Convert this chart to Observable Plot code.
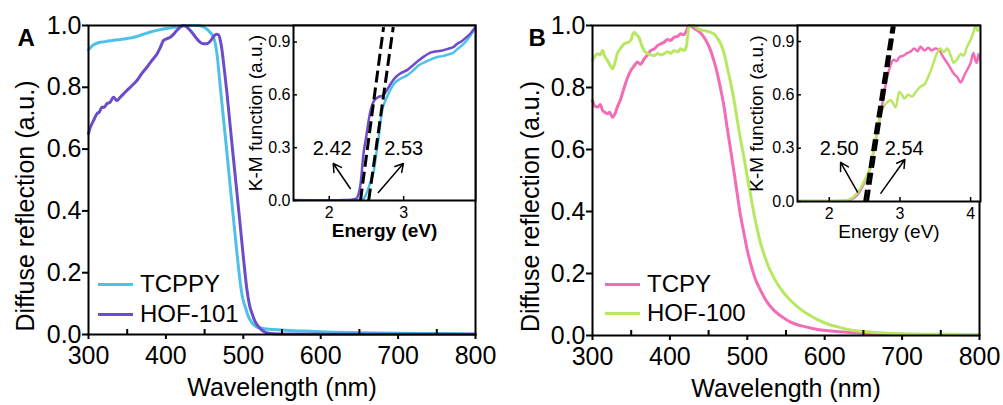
<!DOCTYPE html>
<html><head><meta charset="utf-8">
<script src="https://cdn.jsdelivr.net/npm/d3@7"></script>
<script src="https://cdn.jsdelivr.net/npm/@observablehq/plot@0.6"></script>
<style>
html,body{margin:0;padding:0;background:#fff;}
#wrap{position:relative;width:1003px;height:405px;overflow:hidden;font-family:"Liberation Sans",Arial,sans-serif;}
.leg{position:absolute;display:flex;align-items:center;height:30px;font-size:24px;color:#000;}
.leg span.sw{display:inline-block;width:35px;height:3px;margin-right:7px;}
</style></head><body><div id="wrap"></div>
<script>
// ---------- DATA ----------
const wlTicks = [300, 400, 500, 600, 700, 800];
const wlMinor = [350, 450, 550, 650, 750];
const reflTicks = [0, 0.2, 0.4, 0.6, 0.8, 1.0];
const kmTicks = [0, 0.3, 0.6, 0.9];
const energyTicksA = [2, 3];
const energyTicksB = [2, 3, 4];

// Panel A main: diffuse reflection vs wavelength
const tcppyMain = [[300,0.921],[305,0.935],[310,0.942],[315,0.946],[320,0.947],[325,0.950],[330,0.951],[335,0.953],[340,0.954],[345,0.956],[350,0.958],[360,0.963],[370,0.971],[380,0.979],[390,0.985],[400,0.990],[410,0.994],[420,0.998],[430,1.0],[440,1.0],[447,0.997],[452,0.99],[457,0.978],[461.6,0.962],[466,0.908],[470.3,0.80],[474.6,0.693],[479,0.585],[483.2,0.477],[487.5,0.37],[491.9,0.262],[496.2,0.165],[499,0.12],[502.6,0.089],[506,0.062],[509,0.046],[514,0.030],[520,0.022],[530,0.018],[540,0.016],[560,0.013],[580,0.011],[600,0.009],[650,0.006],[700,0.004],[750,0.003],[800,0.002]];
const hof101Main = [[300,0.65],[302,0.668],[304.4,0.682],[307,0.695],[310.9,0.714],[314,0.72],[317.4,0.736],[320,0.735],[323.8,0.747],[328,0.752],[332.3,0.768],[336.6,0.757],[341,0.768],[345,0.778],[349.7,0.790],[356,0.805],[362.6,0.822],[369,0.845],[375.5,0.865],[382,0.887],[388.5,0.908],[393,0.93],[397,0.952],[401,0.957],[405.6,0.962],[410,0.972],[414,0.984],[418,0.993],[423,1.0],[427,0.995],[431.5,0.984],[436,0.97],[440,0.957],[444,0.946],[448.7,0.941],[453,0.941],[457,0.948],[461,0.962],[465,0.972],[468,0.97],[470.3,0.952],[472.5,0.92],[474.6,0.876],[479,0.779],[483.2,0.671],[487.5,0.564],[491.9,0.456],[496.2,0.348],[500.5,0.24],[504.8,0.143],[508,0.095],[511.3,0.068],[515,0.043],[519.8,0.025],[525,0.012],[532.7,0.004],[545,0.002],[600,0.001],[700,0.001],[800,0.001]];

// Panel B main
const tcpyMain = [[300,0.758],[303,0.74],[306.5,0.737],[310,0.745],[313,0.726],[316,0.72],[319.4,0.715],[322,0.72],[325.8,0.704],[329,0.715],[332,0.737],[336,0.76],[341,0.80],[345,0.83],[349.5,0.855],[354,0.87],[358,0.882],[362,0.875],[366.7,0.892],[371,0.905],[375.3,0.919],[380,0.925],[384,0.935],[388.2,0.941],[392,0.945],[397,0.955],[401,0.952],[405.4,0.962],[410,0.965],[414,0.973],[418,0.97],[420.5,0.978],[424.8,1.0],[430,0.993],[435.5,0.984],[440,0.975],[444,0.962],[448,0.945],[452.7,0.919],[457,0.885],[461.4,0.844],[466,0.79],[470,0.737],[474,0.67],[478.6,0.597],[483,0.525],[487,0.457],[491,0.39],[495.8,0.328],[500,0.275],[504.4,0.231],[510,0.185],[517.3,0.145],[525,0.11],[534.5,0.081],[545,0.06],[556,0.043],[570,0.031],[586,0.022],[605,0.015],[625,0.011],[650,0.007],[676.5,0.005],[700,0.004],[750,0.003],[800,0.002]];
const hof100Main = [[300,0.887],[303,0.9],[306.5,0.909],[310,0.905],[313,0.919],[316,0.9],[319.4,0.887],[322,0.875],[325.8,0.86],[329,0.88],[332,0.909],[336,0.925],[341,0.941],[345,0.945],[349.5,0.952],[352,0.972],[353.8,0.978],[357,0.97],[360,0.962],[363,0.94],[366.7,0.919],[371,0.91],[375,0.905],[379.6,0.903],[384,0.91],[388,0.905],[392.5,0.909],[397,0.915],[401,0.91],[405.4,0.919],[410,0.915],[414,0.925],[418.3,0.919],[421,0.93],[424.8,0.995],[428,1.0],[431,1.0],[436,0.99],[440,0.986],[444,0.984],[450,0.98],[457,0.973],[461,0.96],[465.7,0.941],[470,0.91],[474,0.866],[478.5,0.815],[482.9,0.758],[487,0.695],[491.5,0.629],[496,0.57],[500,0.511],[504.5,0.45],[508.7,0.392],[513,0.34],[517.3,0.296],[522,0.26],[526,0.231],[532,0.197],[538.8,0.167],[547,0.138],[556,0.113],[566,0.09],[577.5,0.07],[590,0.052],[603,0.038],[618,0.027],[633.5,0.018],[655,0.012],[676.5,0.008],[700,0.006],[750,0.004],[800,0.003]];

// Panel A inset: K-M function vs energy
const tcppyKM = [[1.52,0.002],[2.0,0.002],[2.3,0.002],[2.42,0.004],[2.46,0.01],[2.5,0.04],[2.55,0.10],[2.6,0.17],[2.63,0.26],[2.665,0.36],[2.69,0.45],[2.71,0.51],[2.755,0.568],[2.8,0.61],[2.87,0.663],[2.95,0.69],[3.05,0.712],[3.13,0.74],[3.2,0.767],[3.28,0.785],[3.36,0.80],[3.45,0.815],[3.52,0.82],[3.6,0.83],[3.67,0.84],[3.72,0.86],[3.78,0.88],[3.85,0.91],[3.9,0.94],[3.965,0.98]];
const hof101KM = [[1.52,0.003],[1.8,0.002],[2.0,0.002],[2.2,0.003],[2.3,0.005],[2.36,0.01],[2.39,0.03],[2.42,0.09],[2.46,0.265],[2.5,0.37],[2.53,0.455],[2.56,0.52],[2.6,0.565],[2.65,0.585],[2.73,0.60],[2.8,0.645],[2.87,0.69],[2.95,0.72],[3.05,0.742],[3.13,0.77],[3.2,0.795],[3.28,0.82],[3.36,0.84],[3.45,0.848],[3.52,0.852],[3.6,0.862],[3.67,0.872],[3.72,0.89],[3.78,0.905],[3.85,0.93],[3.9,0.95],[3.965,0.985]];
const tangentA = [{x1:2.42,y1:0,x2:2.73,y2:0.985},{x1:2.53,y1:0,x2:2.86,y2:0.985}];
const gapLabelsA = [{text:"2.42",x:2.04,y:0.295},{text:"2.53",x:3.0,y:0.295}];
const arrowsA = [{x1:2.283,y1:0.068,x2:2.054,y2:0.21},{x1:2.66,y1:0.045,x2:2.996,y2:0.21}];

// Panel B inset
const tcpyKM = [[1.55,0.003],[2.0,0.003],[2.2,0.004],[2.3,0.01],[2.38,0.03],[2.44,0.062],[2.5,0.11],[2.58,0.19],[2.63,0.29],[2.68,0.40],[2.75,0.55],[2.82,0.70],[2.87,0.77],[2.91,0.797],[2.95,0.79],[3.0,0.815],[3.05,0.82],[3.1,0.835],[3.15,0.843],[3.2,0.86],[3.25,0.845],[3.29,0.87],[3.35,0.85],[3.4,0.865],[3.45,0.85],[3.5,0.86],[3.55,0.855],[3.6,0.82],[3.65,0.79],[3.7,0.76],[3.76,0.72],[3.81,0.70],[3.86,0.67],[3.9,0.70],[3.95,0.74],[4.0,0.78],[4.04,0.835],[4.07,0.79],[4.09,0.78],[4.11,0.83],[4.14,0.79]];
const hof100KM = [[1.55,0.003],[2.0,0.003],[2.2,0.005],[2.3,0.015],[2.38,0.04],[2.44,0.075],[2.5,0.12],[2.58,0.2],[2.63,0.29],[2.68,0.4],[2.72,0.48],[2.75,0.52],[2.8,0.55],[2.87,0.57],[2.94,0.53],[2.99,0.617],[3.03,0.6],[3.06,0.58],[3.12,0.6],[3.17,0.59],[3.23,0.62],[3.29,0.646],[3.35,0.66],[3.4,0.70],[3.45,0.75],[3.5,0.81],[3.57,0.86],[3.62,0.84],[3.67,0.86],[3.72,0.82],[3.76,0.78],[3.81,0.80],[3.86,0.83],[3.9,0.82],[3.95,0.87],[4.0,0.91],[4.04,0.95],[4.07,0.99],[4.1,0.96],[4.14,0.99]];
const tangentB = [{x1:2.50,y1:0,x2:2.89,y2:0.985},{x1:2.54,y1:0,x2:2.92,y2:0.985}];
const gapLabelsB = [{text:"2.50",x:2.14,y:0.298},{text:"2.54",x:3.06,y:0.298}];
const arrowsB = [{x1:2.40,y1:0.053,x2:2.16,y2:0.22},{x1:2.73,y1:0.047,x2:3.07,y2:0.236}];

const colors = {TCPPY:"#4fc1e9", "HOF-101":"#6c4cca", TCPY:"#f26cb6", "HOF-100":"#b8e862"};
const FONT = '"Liberation Sans", Arial, sans-serif';

// ---------- BUILD ----------
const wrap = document.getElementById("wrap");
const X = d => d[0], Y = d => d[1];

function mainPlot({series, W, mL, mR, mB, ylDx, letter, letDx}) {
  return Plot.plot({
    width: W, height: 405, marginLeft: mL, marginRight: mR, marginTop: 25, marginBottom: mB,
    style: {background: "transparent", fontFamily: FONT, fontSize: "25px", color: "#000", overflow: "visible"},
    x: {domain: [300, 800]},
    y: {domain: [0, 1]},
    marks: [
      ...series.map(s => Plot.line(s.data, {x: X, y: Y, stroke: colors[s.name], strokeWidth: 3, curve: "monotone-x"})),
      Plot.axisX({ticks: wlTicks, tickSize: 5, tickPadding: 7, label: null, strokeWidth: 2, fontSize: 25}),
      Plot.axisX({ticks: wlMinor, tickSize: -5, text: null, label: null, strokeWidth: 2}),
      Plot.axisY({ticks: reflTicks, tickSize: 6, tickPadding: 1, tickFormat: d3.format(".1f"), label: null, strokeWidth: 2, fontSize: 25}),
      Plot.frame({stroke: "#000", strokeWidth: 2}),
      Plot.text(["Wavelength (nm)"], {text: d => d, frameAnchor: "bottom", dy: 44, textAnchor: "middle", lineAnchor: "top", fontSize: 25}),
      Plot.text(["Diffuse reflection (a.u.)"], {text: d => d, frameAnchor: "left", rotate: -90, dx: ylDx, dy: 26, textAnchor: "middle", lineAnchor: "middle", fontSize: 25}),
      Plot.text([letter], {text: d => d, frameAnchor: "top-left", dx: letDx, dy: 3, textAnchor: "start", lineAnchor: "top", fontSize: 24, fontWeight: "bold"})
    ]
  });
}

function insetPlot({series, W, H, mL, mR, mB, xDomain, yTop, ticksX, tangent, labels, arrows, xlBold, ylDx}) {
  return Plot.plot({
    width: W, height: H, marginLeft: mL, marginRight: mR, marginTop: 25, marginBottom: mB,
    style: {background: "transparent", fontFamily: FONT, fontSize: "16px", color: "#000", overflow: "visible"},
    x: {domain: xDomain},
    y: {domain: [0, yTop]},
    marks: [
      Plot.frame({fill: "white"}),
      ...series.map(s => Plot.line(s.data, {x: X, y: Y, stroke: colors[s.name], strokeWidth: 2.5, curve: "monotone-x", clip: true})),
      Plot.link(tangent, {x1: "x1", y1: "y1", x2: "x2", y2: "y2", stroke: "#000", strokeWidth: 3, strokeDasharray: "12,5", clip: true}),
      Plot.arrow(arrows, {x1: "x1", y1: "y1", x2: "x2", y2: "y2", stroke: "#000", strokeWidth: 1.5, headLength: 9}),
      Plot.text(labels, {x: "x", y: "y", text: "text", fontSize: 20}),
      Plot.axisX({ticks: ticksX, tickSize: 0, tickPadding: 6, tickFormat: d3.format("d"), label: null, fontSize: 16}),
      Plot.axisX({ticks: ticksX, tickSize: -4, text: null, label: null, strokeWidth: 1.5}),
      Plot.axisY({ticks: kmTicks, tickSize: 0, tickPadding: 3, tickFormat: d3.format(".1f"), label: null, fontSize: 16}),
      Plot.axisY({ticks: kmTicks, tickSize: -4, text: null, label: null, strokeWidth: 1.5}),
      Plot.frame({stroke: "#000", strokeWidth: 2}),
      Plot.text(["Energy (eV)"], {text: d => d, frameAnchor: "bottom", dy: 23, textAnchor: "middle", lineAnchor: "top", fontSize: 19, fontWeight: xlBold ? "bold" : "normal"}),
      Plot.text(["K-M function (a.u.)"], {text: d => d, frameAnchor: "left", rotate: -90, dx: ylDx, textAnchor: "middle", lineAnchor: "middle", fontSize: 19})
    ]
  });
}

function place(el, left, top) {
  el.style.position = "absolute";
  el.style.left = left + "px";
  el.style.top = top + "px";
  wrap.appendChild(el);
}

place(mainPlot({series: [{name:"TCPPY", data: tcppyMain}, {name:"HOF-101", data: hof101Main}], W: 500, mL: 88, mR: 25, mB: 71, ylDx: -63, letter: "A", letDx: -71}), 0, 0);
place(mainPlot({series: [{name:"TCPY", data: tcpyMain}, {name:"HOF-100", data: hof100Main}], W: 503, mL: 92, mR: 24, mB: 70, ylDx: -62, letter: "B", letDx: -64}), 500, 0);

place(insetPlot({series: [{name:"TCPPY", data: tcppyKM}, {name:"HOF-101", data: hof101KM}], W: 250, H: 240, mL: 53, mR: 15, mB: 40, xDomain: [1.52, 3.965], yTop: 0.994, ticksX: energyTicksA, tangent: tangentA, labels: gapLabelsA, arrows: arrowsA, xlBold: true, ylDx: -38}), 240, 0);
place(insetPlot({series: [{name:"TCPY", data: tcpyKM}, {name:"HOF-100", data: hof100KM}], W: 260, H: 240, mL: 57, mR: 20, mB: 39, xDomain: [1.55, 4.14], yTop: 0.99, ticksX: energyTicksB, tangent: tangentB, labels: gapLabelsB, arrows: arrowsB, xlBold: false, ylDx: -41}), 740, 0);

// legends
function legend(names, left, tops) {
  names.forEach((n, i) => {
    const row = document.createElement("div");
    row.className = "leg";
    row.style.left = left + "px";
    row.style.top = (tops[i] - 15) + "px";
    const sw = document.createElement("span");
    sw.className = "sw";
    sw.style.background = colors[n];
    row.appendChild(sw);
    row.appendChild(document.createTextNode(n));
    wrap.appendChild(row);
  });
}
legend(["TCPPY", "HOF-101"], 98, [284, 314]);
legend(["TCPY", "HOF-100"], 605, [284, 313]);
</script></body></html>
